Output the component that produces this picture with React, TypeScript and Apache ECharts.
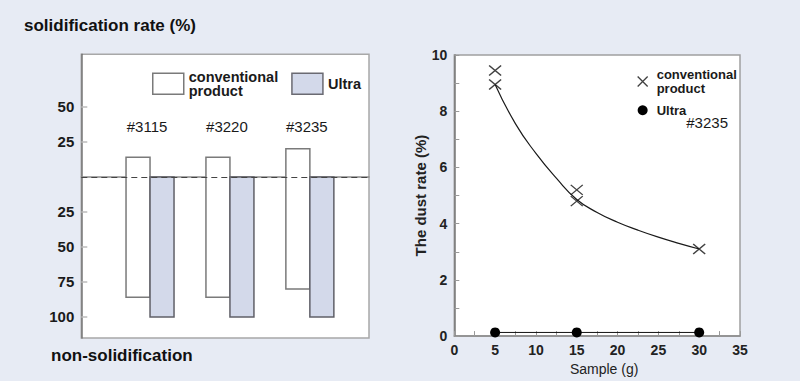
import React, { useEffect, useRef } from "react";
import * as echarts from "echarts";

// ---- Left chart data (solidification / non-solidification, %) ----
const categories = ["#3115", "#3220", "#3235"];
const convSolidification = [14, 14, 20];
const convNonSolidification = [86, 86, 80];
const ultraSolidification = [0, 0, 0];
const ultraNonSolidification = [100, 100, 100];
const leftTickValues = [-100, -75, -50, -25, 25, 50];

// ---- Right chart data (#3235 dust rate, %) ----
const sampleG = [5, 15, 30];
const convDust = [[9.45, 8.95], [5.2, 4.8], [3.1]];
const ultraDust = [0.13, 0.13, 0.13];
const fitSample = [5, 7.5, 10, 12.5, 15, 17.5, 20, 22.5, 25, 27.5, 30];
const fitDust = [8.95, 7.55, 6.5, 5.62, 4.86, 4.4, 4.05, 3.77, 3.52, 3.3, 3.1];

const FONT = '"Liberation Sans", Arial, Helvetica, sans-serif';
const CROSS = "path://M0,0L10,10M10,0L0,10";
const BAR_W = 24;

const legendLabels: Record<string, string> = {
  "conventional product": "conventional\nproduct",
  Ultra: "Ultra",
  "conventional product (dust)": "conventional\nproduct",
  "Ultra (dust)": "Ultra",
};

function rangeBar(side: number, fill: string, stroke: string) {
  return (params: any, api: any) => {
    const x = api.value(0);
    const hi = api.value(1);
    const lo = -api.value(2);
    const pHi = api.coord([x, hi]);
    const pLo = api.coord([x, lo]);
    const left = side < 0 ? pHi[0] - BAR_W : pHi[0];
    return {
      type: "rect",
      shape: { x: left, y: pHi[1], width: BAR_W, height: pLo[1] - pHi[1] },
      style: { fill, stroke, lineWidth: 1.5 },
    };
  };
}

export default function App() {
  const ref = useRef<HTMLDivElement>(null);

  useEffect(() => {
    if (!ref.current) return;
    const chart = echarts.init(ref.current, undefined, { renderer: "svg" });

    const catX = categories.map((_, i) => i + 1);

    const option: any = {
      animation: false,
      backgroundColor: "#e7ebf4",
      textStyle: { fontFamily: FONT },
      grid: [
        {
          left: 81.3,
          top: 54.3,
          width: 287.7,
          height: 283.7,
          show: true,
          backgroundColor: "#ffffff",
          borderColor: "#a8a8a8",
          borderWidth: 1.5,
        },
        {
          left: 454.3,
          top: 55,
          width: 285.7,
          height: 282.7,
          show: true,
          backgroundColor: "#ffffff",
          borderColor: "#a0a0a0",
          borderWidth: 1.5,
        },
      ],
      xAxis: [
        {
          gridIndex: 0,
          type: "value",
          position: "top",
          min: 0.14,
          max: 3.74,
          axisLine: { show: true, lineStyle: { color: "#8a8a8a", width: 1.5 } },
          axisTick: { show: false },
          splitLine: { show: false },
          axisLabel: { show: false },
        },
        {
          gridIndex: 1,
          type: "value",
          min: 0,
          max: 35,
          interval: 5,
          axisLine: { show: true, lineStyle: { color: "#8a8a8a", width: 1.5 } },
          axisTick: { inside: true, length: 5, lineStyle: { color: "#999" } },
          minorTick: { show: true, splitNumber: 2, length: 5, lineStyle: { color: "#999" } },
          splitLine: { show: false },
          axisLabel: { margin: 7, fontSize: 14, fontWeight: "bold", color: "#222", fontFamily: FONT },
          name: "Sample (g)",
          nameLocation: "middle",
          nameGap: 24,
          nameTextStyle: { fontSize: 14, color: "#222", fontFamily: FONT, padding: [0, 0, 0, 14] },
        },
      ],
      yAxis: [
        {
          gridIndex: 0,
          type: "value",
          min: -115,
          max: 87.5,
          axisLine: { show: true, lineStyle: { color: "#777", width: 1.5 } },
          axisTick: {
            show: true,
            customValues: leftTickValues,
            inside: true,
            length: 6,
            lineStyle: { color: "#bbb", width: 1.5 },
          },
          splitLine: { show: false },
          axisLabel: {
            customValues: leftTickValues,
            formatter: (v: number) => String(Math.abs(v)),
            margin: 7,
            fontSize: 15,
            fontWeight: "bold",
            color: "#1a1a1a",
            fontFamily: FONT,
          },
        },
        {
          gridIndex: 1,
          type: "value",
          min: 0,
          max: 10,
          interval: 2,
          axisLine: { show: true, lineStyle: { color: "#777", width: 1.5 } },
          axisTick: { inside: true, length: 5, lineStyle: { color: "#999" } },
          minorTick: { show: true, splitNumber: 2, length: 5, lineStyle: { color: "#999" } },
          splitLine: { show: false },
          axisLabel: { margin: 7, fontSize: 14, fontWeight: "bold", color: "#222", fontFamily: FONT },
          name: "The dust rate (%)",
          nameLocation: "middle",
          nameGap: 22,
          nameTextStyle: { fontSize: 15, fontWeight: "bold", color: "#222", fontFamily: FONT },
        },
      ],
      legend: [
        {
          left: 147,
          top: 64,
          orient: "horizontal",
          itemWidth: 31,
          itemHeight: 21,
          itemGap: 13,
          icon: "rect",
          selectedMode: false,
          data: [
            {
              name: "conventional product",
              itemStyle: { color: "#ffffff", borderColor: "#7a7a7a", borderWidth: 1.5 },
            },
            {
              name: "Ultra",
              itemStyle: { color: "#d3d9ea", borderColor: "#6a6a72", borderWidth: 1.5 },
            },
          ],
          formatter: (n: string) => legendLabels[n] ?? n,
          textStyle: { fontSize: 14.5, fontWeight: "bold", lineHeight: 14.5, color: "#1a1a1a", fontFamily: FONT },
        },
        {
          left: 632,
          top: 62,
          orient: "vertical",
          itemWidth: 18,
          itemHeight: 10,
          itemGap: 7,
          selectedMode: false,
          data: [
            {
              name: "conventional product (dust)",
              icon: CROSS,
              itemStyle: { color: "rgba(0,0,0,0)", borderColor: "#111", borderWidth: 1.3 },
            },
            {
              name: "Ultra (dust)",
              icon: "circle",
              itemStyle: { color: "#000", borderWidth: 0 },
              lineStyle: { opacity: 0 },
            },
          ],
          formatter: (n: string) => legendLabels[n] ?? n,
          textStyle: { fontSize: 13, fontWeight: "bold", lineHeight: 14.5, color: "#1a1a1a", fontFamily: FONT },
        },
      ],
      graphic: [
        {
          type: "text",
          x: 24,
          y: 25,
          style: {
            text: "solidification rate (%)",
            fill: "#111",
            font: `bold 17px ${FONT}`,
            textAlign: "left",
            textVerticalAlign: "middle",
          },
        },
        {
          type: "text",
          x: 51,
          y: 355,
          style: {
            text: "non-solidification",
            fill: "#111",
            font: `bold 17px ${FONT}`,
            textAlign: "left",
            textVerticalAlign: "middle",
          },
        },
        {
          type: "text",
          x: 728,
          y: 122,
          style: {
            text: "#3235",
            fill: "#1a1a1a",
            font: `15px ${FONT}`,
            textAlign: "right",
            textVerticalAlign: "middle",
          },
        },
      ],
      series: [
        {
          name: "conventional product",
          type: "custom",
          xAxisIndex: 0,
          yAxisIndex: 0,
          encode: { x: 0, y: [1, 2] },
          renderItem: rangeBar(-1, "#ffffff", "#7a7a7a"),
          itemStyle: { color: "#ffffff", borderColor: "#7a7a7a" },
          data: catX.map((x, i) => [x, convSolidification[i], convNonSolidification[i]]),
          z: 2,
        },
        {
          name: "Ultra",
          type: "custom",
          xAxisIndex: 0,
          yAxisIndex: 0,
          encode: { x: 0, y: [1, 2] },
          renderItem: rangeBar(1, "#d3d9ea", "#606068"),
          itemStyle: { color: "#d3d9ea", borderColor: "#606068" },
          data: catX.map((x, i) => [x, ultraSolidification[i], ultraNonSolidification[i]]),
          markLine: {
            silent: true,
            symbol: ["none", "none"],
            label: { show: false },
            lineStyle: { type: [6, 4], color: "#444", width: 1.2 },
            data: [{ yAxis: 0 }],
          },
          z: 3,
        },
        {
          name: "sample labels",
          type: "custom",
          xAxisIndex: 0,
          yAxisIndex: 0,
          silent: true,
          encode: { x: 0, y: 1 },
          renderItem: (params: any, api: any) => {
            const p = api.coord([api.value(0), 0]);
            return {
              type: "text",
              x: p[0] - 3,
              y: params.coordSys.y + 72,
              style: {
                text: categories[params.dataIndex],
                fill: "#1a1a1a",
                font: `15px ${FONT}`,
                textAlign: "center",
                textVerticalAlign: "middle",
              },
            };
          },
          data: catX.map((x) => [x, 0]),
          z: 4,
        },
        {
          name: "fit",
          type: "line",
          xAxisIndex: 1,
          yAxisIndex: 1,
          smooth: true,
          symbol: "none",
          showSymbol: false,
          silent: true,
          lineStyle: { color: "#1a1a1a", width: 1.2 },
          data: fitSample.map((x, i) => [x, fitDust[i]]),
          z: 2,
        },
        {
          name: "conventional product (dust)",
          type: "scatter",
          xAxisIndex: 1,
          yAxisIndex: 1,
          symbol: CROSS,
          symbolSize: [12, 10],
          itemStyle: { color: "rgba(0,0,0,0)", borderColor: "#111", borderWidth: 1.3 },
          data: sampleG.flatMap((x, i) => convDust[i].map((v) => [x, v])),
          z: 3,
        },
        {
          name: "Ultra (dust)",
          type: "line",
          xAxisIndex: 1,
          yAxisIndex: 1,
          symbol: "circle",
          symbolSize: 10,
          showSymbol: true,
          lineStyle: { color: "#111", width: 1 },
          itemStyle: { color: "#000" },
          data: sampleG.map((x, i) => [x, ultraDust[i]]),
          z: 3,
        },
      ],
    };

    chart.setOption(option);
    return () => chart.dispose();
  }, []);

  return (
    <div
      ref={ref}
      style={{ position: "fixed", left: 0, top: 0, width: 800, height: 381 }}
    />
  );
}
